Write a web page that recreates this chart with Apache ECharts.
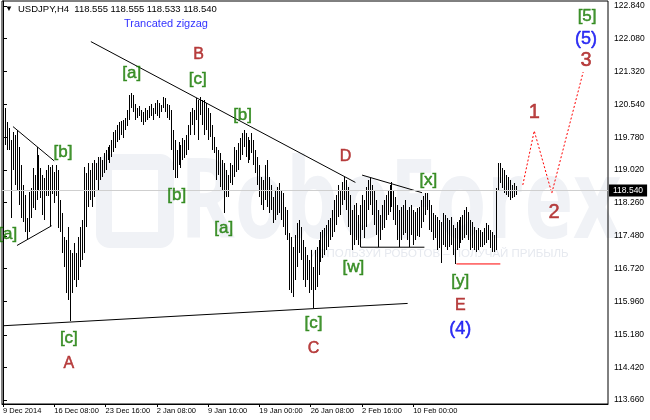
<!DOCTYPE html>
<html><head><meta charset="utf-8">
<script src="https://cdn.jsdelivr.net/npm/echarts@6/dist/echarts.min.js"></script>
<style>html,body{margin:0;padding:0;background:#fff}#c{width:650px;height:420px}</style>
</head><body><div id="c"></div>
<script>
// ---------- data ----------
const symbolName = 'USDJPY,H4';
const lastQuote = [118.555, 118.555, 118.533, 118.540]; // O H L C of last bar
const subtitle = 'Trancated zigzag';
const bidPrice = 118.540;

const highs = [
120.98,120.46,120.14,120.00,119.72,119.90,119.83,119.95,119.55,119.14,
118.67,118.44,117.90,118.51,118.60,119.07,118.90,119.55,119.37,119.07,
118.90,118.83,119.02,119.14,119.09,119.14,118.97,119.14,119.02,118.32,
118.02,117.46,117.39,117.69,117.15,117.08,117.32,117.08,117.46,117.69,
117.85,119.09,118.95,119.18,119.02,119.18,119.25,119.18,119.32,119.32,
119.25,119.42,119.48,119.55,119.60,119.72,119.90,119.95,120.07,120.14,
120.16,120.18,120.23,120.42,120.77,120.81,120.77,120.56,120.46,120.51,
120.42,120.37,120.46,120.42,120.51,120.56,120.46,120.58,120.65,120.58,
120.53,120.72,120.70,120.56,120.53,120.42,119.95,119.72,119.48,119.67,
119.60,119.76,119.72,119.83,120.07,120.37,120.46,120.42,120.70,120.65,
120.72,120.65,120.65,120.58,120.46,120.35,120.07,119.79,119.55,119.48,
119.42,119.25,119.18,119.02,118.90,119.18,119.14,119.55,119.48,119.65,
119.76,119.88,119.95,119.88,119.79,119.72,119.88,119.72,119.48,119.32,
119.14,118.86,118.79,119.14,119.25,118.86,118.67,118.39,118.55,118.62,
118.72,118.55,118.48,118.16,118.09,117.55,117.46,117.22,117.50,117.78,
117.85,117.69,117.39,117.22,117.04,116.92,117.15,116.76,117.15,117.22,
117.39,117.57,117.62,117.67,117.74,117.85,117.90,118.09,118.32,118.44,
118.67,118.55,118.74,118.86,118.79,118.62,118.44,118.09,118.20,118.25,
117.97,118.20,118.44,118.32,118.62,118.79,118.83,118.67,118.55,118.32,
118.09,117.97,118.20,118.32,118.44,118.55,118.67,118.74,118.55,118.39,
118.20,118.09,118.16,118.20,118.32,118.09,118.16,118.20,118.09,118.04,
118.13,118.16,118.32,118.41,118.48,118.48,118.32,118.20,118.02,117.97,
117.92,117.85,117.81,118.02,117.97,117.90,117.85,117.92,117.74,117.67,
117.81,117.85,117.92,117.97,118.09,118.16,118.04,117.85,117.81,117.69,
117.62,117.67,117.62,117.57,117.67,117.78,117.74,117.62,117.57,117.50,
118.60,119.18,119.18,119.07,119.02,118.90,118.86,118.79,118.67,118.72,
118.65,118.555];

const lows = [
120.46,119.60,119.48,119.48,117.90,119.02,118.67,118.55,118.20,117.90,
117.81,117.57,117.39,117.57,117.90,118.13,118.09,118.32,118.55,118.37,
117.97,117.85,118.41,118.41,117.71,118.46,118.25,118.41,117.67,117.57,
117.08,116.76,116.15,115.99,115.50,116.15,116.46,116.29,116.46,116.76,
116.92,117.08,117.69,118.16,118.32,118.16,118.39,118.79,118.55,118.79,
118.86,118.95,119.02,119.25,119.18,119.32,119.44,119.53,119.67,119.72,
119.83,119.76,119.95,120.04,120.18,120.46,120.37,120.18,120.23,120.28,
120.14,120.07,120.14,120.18,120.23,120.28,120.18,120.32,120.28,120.23,
120.37,120.46,120.37,120.23,120.18,119.48,119.02,118.83,118.83,119.14,
119.07,119.25,119.30,119.37,119.48,119.83,120.07,119.83,120.18,119.72,
120.30,120.07,119.83,119.95,119.72,119.79,119.48,119.42,118.79,118.90,
118.62,118.55,118.02,118.39,118.39,118.72,118.67,118.86,118.97,119.02,
119.25,119.37,119.55,119.32,119.18,119.25,119.42,119.14,118.95,118.67,
118.39,118.20,118.09,118.32,118.16,118.02,118.09,117.78,117.85,117.97,
118.02,117.85,117.69,117.50,117.39,116.22,116.15,116.06,116.46,116.76,
117.08,116.92,116.46,116.29,116.46,116.15,116.22,115.80,116.22,116.29,
116.57,116.88,116.97,117.04,117.15,117.22,117.39,117.46,117.57,117.74,
117.92,117.97,118.20,118.32,118.09,117.69,117.50,117.15,117.27,117.39,
117.27,117.22,117.62,117.43,117.69,118.09,118.20,117.97,117.74,117.50,
117.22,117.39,117.62,117.67,117.85,117.97,118.04,118.16,117.85,117.74,
117.39,117.22,117.39,117.50,117.55,117.39,117.22,117.50,117.27,117.39,
117.48,117.46,117.67,117.81,117.97,118.09,117.62,117.57,117.39,117.43,
117.15,117.20,116.85,117.27,117.22,117.15,117.22,117.27,117.04,116.83,
117.15,117.20,117.32,117.39,117.43,117.50,117.39,117.15,117.20,117.15,
117.11,117.15,117.22,117.22,117.27,117.32,117.39,117.20,117.11,117.11,
117.15,118.55,118.72,118.60,118.48,118.44,118.39,118.32,118.37,118.39,
118.44,118.533];

const timeLabels = ['9 Dec 2014','16 Dec 08:00','23 Dec 16:00','2 Jan 08:00','9 Jan 16:00','19 Jan 00:00','26 Jan 08:00','2 Feb 16:00','10 Feb 00:00'];
const timeLabelBars = [0, 26, 52, 78, 104, 130, 156, 182, 208];
const priceTicks = [113.66,114.42,115.18,115.96,116.72,117.48,118.26,119.02,119.78,120.54,121.32,122.08,122.84];

// forecast path (bar position, price)
const forecastX = [263.6, 269.4, 278.3, 294.2];
const forecastY = [118.67, 119.93, 118.48, 121.30];

// wave labels
const waveText   = ['[a]','[b]','[c]','A','[a]','B','[c]','[b]','[b]','[a]','D','[c]','C','[w]','[x]','[y]','E','(4)','1','2','3','(5)','[5]'];
const waveX      = [2.4, 30.4, 33.4, 33.4, 65.3, 99.2, 98.7, 88.1, 121.5, 111.9, 173.7, 157.5, 157.5, 177.7, 215.7, 231.9, 231.9, 231.9, 269.4, 279.5, 295.7, 295.7, 296.2];
const waveY      = [117.53,119.44,115.10,114.50,121.28,121.70,121.12,118.44,120.30,117.67,119.32,115.45,114.85,116.76,118.79,116.43,115.85,115.31,120.35,118.02,121.58,122.07,122.61];
const waveDegree = ['minute','minute','minute','minor','minute','minor','minute','minute','minute','minute','minor','minute','minor','minute','minute','minute','minor','intermediate','sub','sub','sub','intermediate','minute'];

// drawn trend lines: [[bar, price], [bar, price]]
const triangleUpper  = [[5.06, 120.03], [25.97, 119.23]];
const triangleLower  = [[7.09, 117.26], [24.66, 117.72]];
const mainResistance = [[44.56, 122.01], [178.7, 118.73]];
const mainSupport    = [[0, 115.39], [205.2, 115.91]];
const flatUpper      = [[182.1, 118.90], [212.5, 118.49]];
const flatBase       = [[181.3, 117.22], [213.7, 117.22]];
const waveYLow       = [[229.9, 116.83], [252.2, 116.83]];

// ---------- styles ----------
const FONT = '"Liberation Sans", Arial, sans-serif';
const degreeStyle = {
  minute: {color: '#167a00', size: 17},
  minor: {color: '#a81414', size: 16},
  intermediate: {color: '#0000f0', size: 18},
  sub: {color: '#a81414', size: 20}
};

const chart = echarts.init(document.getElementById('c'), null, {renderer: 'canvas'});

const barData = highs.map((h, i) => [i, h, lows[i]]);

function lineSeries(pts, color, type) {
  return {
    type: 'line', data: pts, symbol: 'none', silent: true, z: 4,
    lineStyle: {color: color, width: 1, type: type || 'solid'}, animation: false
  };
}

const labelData = waveText.map((t, i) => {
  const st = degreeStyle[waveDegree[i]];
  return {
    value: [waveX[i], waveY[i]],
    label: {show: true, formatter: t, color: st.color, fontSize: st.size, fontFamily: FONT, position: 'inside',
            textBorderColor: st.color, textBorderWidth: 0.5}
  };
});

const option = {
  animation: false,
  backgroundColor: '#ffffff',
  grid: {left: 1, top: 1, right: 42, bottom: 16, show: true, borderColor: '#000', borderWidth: 1, backgroundColor: 'transparent'},
  xAxis: {
    type: 'value', min: -0.5, max: 306.8,
    axisLine: {show: true, lineStyle: {color: '#000'}},
    axisTick: {show: true, customValues: timeLabelBars, length: 3, lineStyle: {color: '#000'}},
    axisLabel: {
      show: true, customValues: timeLabelBars, align: 'left', margin: 3,
      color: '#000', fontSize: 7.5, fontFamily: FONT,
      formatter: v => { const k = timeLabelBars.indexOf(Math.round(v)); return k >= 0 ? timeLabels[k] : ''; }
    },
    splitLine: {show: false}
  },
  yAxis: {
    type: 'value', position: 'right', min: 113.567, max: 122.956,
    axisLine: {show: true, lineStyle: {color: '#000'}},
    axisTick: {show: true, customValues: priceTicks, length: 4, lineStyle: {color: '#000'}},
    axisLabel: {
      show: true, customValues: priceTicks, margin: 6, color: '#000', fontSize: 8.5, fontFamily: FONT,
      formatter: v => v.toFixed(3)
    },
    splitLine: {show: false}
  },
  graphic: [
    {type: 'text', x: 180, y: 206, z: -10, scaleX: 0.74,
     style: {text: 'RoboForex', font: 'bold 112px "Open Sans", sans-serif', fill: '#f0f2f6', verticalAlign: 'middle', align: 'left'}},
    {type: 'rect', x: 104, y: 162, z: -10, shape: {width: 62, height: 78, r: 6}, style: {fill: 'none', stroke: '#f0f2f6', lineWidth: 16}},
    {type: 'text', x: 310, y: 254, z: -10, style: {text: 'ИСПОЛЬЗУЙ РОБОТОВ – ПОЛУЧАЙ ПРИБЫЛЬ', font: '11.5px ' + FONT, fill: '#e6e9ef', verticalAlign: 'middle'}},
    {type: 'text', x: 5, y: 9, style: {text: '▼', font: '8px ' + FONT, fill: '#000', verticalAlign: 'middle'}},
    {type: 'text', x: 18, y: 9, style: {text: symbolName + '  ' + lastQuote.map(v => v.toFixed(3)).join(' '), font: '9.5px ' + FONT, fill: '#000', verticalAlign: 'middle'}},
    {type: 'text', x: 124, y: 24, style: {text: subtitle, font: '11px ' + FONT, fill: '#3333ff', verticalAlign: 'middle'}}
  ],
  series: [
    {
      type: 'custom', name: 'bars', data: barData, z: 3, silent: true,
      encode: {x: 0, y: [1, 2]},
      renderItem: function (params, api) {
        const top = api.coord([api.value(0), api.value(1)]);
        const bot = api.coord([api.value(0), api.value(2)]);
        const x = Math.round(top[0]);
        const y1 = Math.round(top[1]), y2 = Math.round(bot[1]);
        return {type: 'rect', shape: {x: x, y: y1, width: 1, height: Math.max(1, y2 - y1)}, style: {fill: '#000'}};
      },
      markLine: {
        silent: true, symbol: 'none', animation: false,
        lineStyle: {color: '#cfcfcf', width: 1, type: 'solid'},
        label: {show: true, position: 'end', formatter: () => bidPrice.toFixed(3), backgroundColor: '#000', color: '#fff',
                fontSize: 8.5, fontFamily: FONT, padding: [2, 4, 1, 4], distance: 1},
        data: [{yAxis: bidPrice}]
      }
    },
    lineSeries(triangleUpper, '#000'),
    lineSeries(triangleLower, '#000'),
    lineSeries(mainResistance, '#000'),
    lineSeries(mainSupport, '#000'),
    lineSeries(flatUpper, '#000'),
    lineSeries(flatBase, '#000'),
    lineSeries(waveYLow, '#ff0000'),
    lineSeries(forecastX.map((x, i) => [x, forecastY[i]]), '#ff0000', [2, 2]),
    {
      type: 'scatter', data: labelData, symbol: 'circle', symbolSize: 1, silent: true, z: 6,
      itemStyle: {color: 'rgba(0,0,0,0)'}
    }
  ]
};
chart.setOption(option);
</script>
</body></html>
